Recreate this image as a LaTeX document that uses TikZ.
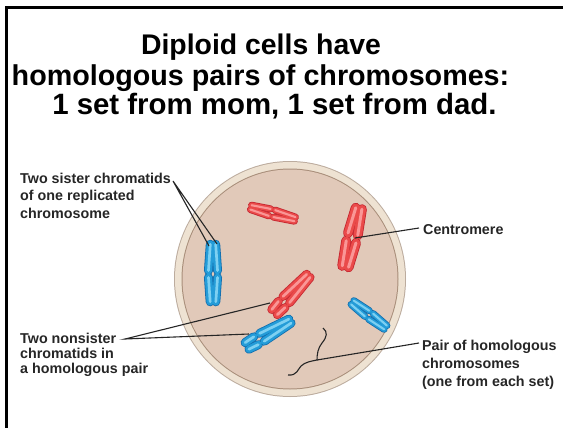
\documentclass[tikz,border=0pt]{standalone}
\usepackage{fontspec}
\setmainfont{Liberation Sans}

% cell colours
\definecolor{rimout}{RGB}{188,172,158}
\definecolor{rimband}{RGB}{238,226,210}
\definecolor{rimin}{RGB}{168,142,122}
\definecolor{cytoplasm}{RGB}{225,201,185}
% chromosome colours
\definecolor{rededge}{RGB}{196,38,48}
\definecolor{redbody}{RGB}{234,74,74}
\definecolor{redsheen}{RGB}{250,150,150}
\definecolor{blueedge}{RGB}{18,108,172}
\definecolor{bluebody}{RGB}{36,156,216}
\definecolor{bluesheen}{RGB}{125,208,242}
\definecolor{labelgray}{RGB}{38,38,38}

% replicated chromosome (two sister chromatids joined at the centromere):
% #1,#2 centromere, #3 direction of the long arm, #4 short arm, #5 long arm,
% #6 chromatid width, #7 edge, #8 body, #9 sheen
% Each layer (edge, body, sheen) is laid over all four arms before the next.
\newcommand\chromo[9]{%
  \begin{scope}[shift={(#1,#2)}, rotate=#3]
    \pgfmathsetmacro\ina{#6/2-1.4}
    \pgfmathsetmacro\outl{#5-#6/2}
    \pgfmathsetmacro\outs{-(#4-#6/2)}
    \foreach \lw/\col in {#6/#7, #6-1.6/#8, #6*0.3/#9}{
      \foreach \s in {-1,1}{
        \pgfmathsetmacro\off{\s*(#6/2+0.25)}
        \draw[line cap=round, line width={(\lw)*1pt}, \col, rotate={\s*4}]
          (\ina,\off) -- (\outl,\off);
        \draw[line cap=round, line width={(\lw)*1pt}, \col, rotate={-\s*4}]
          (-\ina,\off) -- (\outs,\off);
      }
    }
  \end{scope}
}

\tikzset{
  titletext/.style={font=\bfseries\fontsize{28.8}{30}\selectfont, anchor=base, inner sep=0pt},
  callout/.style={font=\bfseries\fontsize{14.3}{17.5}\selectfont, text=labelgray,
    align=left, inner sep=0pt, anchor=north west},
  leader/.style={draw=black!85, line width=1.1pt},
}

\begin{document}
\begin{tikzpicture}[x=1pt, y=-1pt]
\useasboundingbox (0,0) rectangle (563,428);
\fill[white] (0,0) rectangle (563,428);

% slide frame
\draw[line width=3pt] (6.5,428) -- (6.5,8) -- (563,8);

% heading
\node[titletext, font=\bfseries\fontsize{28.4}{30}\selectfont] (title1) at (261,55) {Diploid cells have};
\node[titletext, font=\bfseries\fontsize{28.7}{30}\selectfont] (title2) at (260.5,85) {homologous pairs of chromosomes:};
\node[titletext, font=\bfseries\fontsize{29.4}{30}\selectfont] (title3) at (274.5,115) {1 set from mom, 1 set from dad.};

% the cell
\fill[rimout] (290,279) ellipse [x radius=116, y radius=118];
\fill[rimband] (290,279) ellipse [x radius=115, y radius=117];
\fill[rimin] (290,279) ellipse [x radius=108.5, y radius=110.5];
\fill[cytoplasm] (290,279) ellipse [x radius=107.5, y radius=109.5];

% chromosomes
\chromo{213}{274}{90}{32}{34}{9}{blueedge}{bluebody}{bluesheen}
\chromo{272}{213}{-15}{25}{27}{7}{rededge}{redbody}{redsheen}
\chromo{352}{238}{77}{34}{35}{10}{rededge}{redbody}{redsheen}
\chromo{284}{302}{47}{18}{40}{9}{rededge}{redbody}{redsheen}
\chromo{259}{339}{30}{18}{40}{9}{blueedge}{bluebody}{bluesheen}
\chromo{369}{315}{-37}{24}{24}{7}{blueedge}{bluebody}{bluesheen}

% brace grouping the homologous pair
\draw[line width=1.1pt, black!85] (323,328) .. controls (328,332) and (327,337) .. (322,343)
  .. controls (318,348) and (317,354) .. (317,360) coordinate (braceTip)
  .. controls (312,361) and (305,362) .. (301,366)
  .. controls (298,369) and (297,376) .. (288,375);

% labels
\node[callout] (lblSister) at (20,172.5) {Two sister chromatids\\of one replicated\\chromosome};
\node[callout, font=\bfseries\fontsize{14.3}{15}\selectfont] (lblNonsister) at (20,333) {Two nonsister\\chromatids in\\a homologous pair};
\node[callout, anchor=west] (lblCentro) at (423,230) {Centromere};
\node[callout, font=\bfseries\fontsize{14.3}{18}\selectfont] (lblPair) at (422,339.5) {Pair of homologous\\chromosomes\\(one from each set)};

% leader line ends
\coordinate (sisFrom) at (173,181);
\coordinate (sisA) at (209,246);
\coordinate (sisB) at (217,244);
\coordinate (nonFrom) at (125,339);
\coordinate (nonA) at (270,303);
\coordinate (nonB) at (249,334);
\coordinate (cenFrom) at (419,228);
\coordinate (cenTo) at (355,238);
\coordinate (pairFrom) at (419,343);

\draw[leader] (sisA) -- (sisFrom) -- (sisB);
\draw[leader] (nonA) -- (nonFrom) -- (nonB);
\draw[leader] (cenFrom) -- (cenTo);
\draw[leader] (pairFrom) -- (braceTip);
\end{tikzpicture}
\end{document}
